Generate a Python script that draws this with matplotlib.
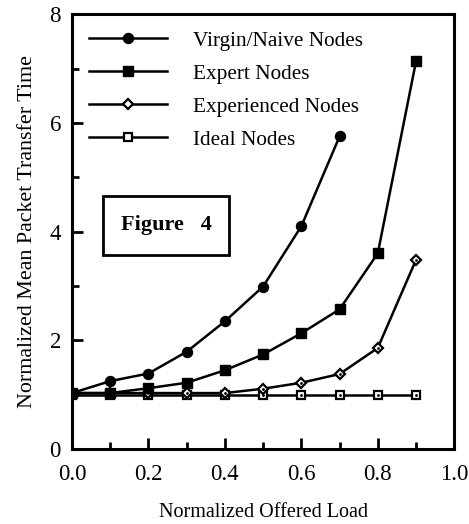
import matplotlib
matplotlib.use("Agg")
import matplotlib.pyplot as plt
from matplotlib.ticker import MultipleLocator, FormatStrFormatter
from matplotlib.patches import Rectangle

# data
load = [0.0, 0.1, 0.2, 0.3, 0.4, 0.5, 0.6, 0.7, 0.8, 0.9]
virgin = [1.03, 1.25, 1.39, 1.79, 2.35, 2.99, 4.10, 5.75]
expert = [1.03, 1.03, 1.12, 1.22, 1.45, 1.74, 2.13, 2.57, 3.60, 7.13]
experienced = [1.03, 1.03, 1.03, 1.03, 1.03, 1.11, 1.22, 1.38, 1.86, 3.48]
ideal = [1.0, 1.0, 1.0, 1.0, 1.0, 1.0, 1.0, 1.0, 1.0, 1.0]

plt.rcParams['font.family'] = ['Liberation Serif', 'DejaVu Serif']

fig = plt.figure(figsize=(4.69, 5.24), dpi=100)
ax = fig.add_axes([0.1535, 0.143, 0.815, 0.83])

lw = 1.8
ax.plot(load, ideal, color='black', lw=lw, marker='s', ms=5.5,
        mfc='white', mec='black', mew=1.6, label='Ideal Nodes', zorder=2)
ax.plot(load, experienced, color='black', lw=lw, marker='D', ms=5.5,
        mfc='white', mec='black', mew=1.6, label='Experienced Nodes', zorder=3)
ax.plot(load, expert, color='black', lw=lw, marker='s', ms=7.5,
        mfc='black', mec='black', label='Expert Nodes', zorder=4)
ax.plot(load[:len(virgin)], virgin, color='black', lw=lw, marker='o', ms=7.2,
        mfc='black', mec='black', label='Virgin/Naive Nodes', zorder=5)
# small centre dots in the open markers
ax.plot(load, ideal, ls='none', marker='.', ms=2, color='black', zorder=2.5)
ax.plot(load, experienced, ls='none', marker='.', ms=2, color='black', zorder=3.5)

ax.set_xlim(0, 1.0)
ax.set_ylim(0, 8)
ax.xaxis.set_major_locator(MultipleLocator(0.2))
ax.xaxis.set_minor_locator(MultipleLocator(0.1))
ax.yaxis.set_major_locator(MultipleLocator(2))
ax.yaxis.set_minor_locator(MultipleLocator(1))
ax.xaxis.set_major_formatter(FormatStrFormatter('%.1f'))
ax.tick_params(which='both', direction='in', top=False, right=False,
               width=2, labelsize=16.5)
ax.tick_params(which='major', length=8)
ax.tick_params(which='minor', length=5)
ax.tick_params(axis='x', pad=11)
ax.tick_params(axis='y', pad=8)
for s in ax.spines.values():
    s.set_linewidth(2.2)

ax.set_xlabel('Normalized Offered Load', fontsize=14.5, labelpad=13)
ax.set_ylabel('Normalized Mean Packet Transfer Time', fontsize=15.8, labelpad=9)

handles, labels = ax.get_legend_handles_labels()
ax.legend(handles[::-1], labels[::-1], loc='upper left',
          bbox_to_anchor=(0.045, 0.962), frameon=False, fontsize=15.3,
          borderpad=0, borderaxespad=0,
          handlelength=3.67, handletextpad=1.2, labelspacing=0.62)

ax.add_patch(Rectangle((0.081, 0.447), 0.33, 0.136, transform=ax.transAxes,
                       fc='white', ec='black', lw=2, zorder=6))
ax.text(0.246, 0.515, 'Figure   4', transform=ax.transAxes, fontsize=16,
        fontweight='bold', ha='center', va='center', zorder=7)

fig.savefig('out.png', dpi=100)
